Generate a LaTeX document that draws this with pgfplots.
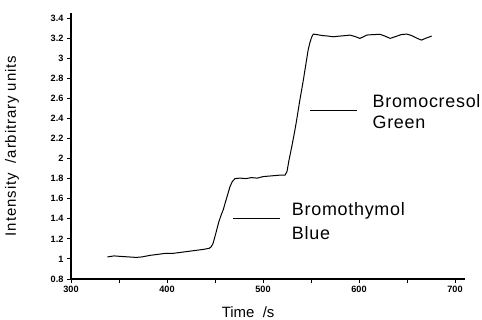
\documentclass[border=0pt]{standalone}
\usepackage{pgfplots}
\pgfplotsset{compat=1.18}
\usepackage{fontspec}
\setmainfont{Liberation Sans}
\newfontfamily\labfont[LetterSpace=6]{Liberation Sans}
\newfontfamily\annfont[LetterSpace=4]{Liberation Sans}
\begin{document}
\begin{tikzpicture}
\begin{axis}[
  at={(0,0)}, anchor=south west,
  scale only axis, width=393.6bp, height=266bp,
  xmin=300, xmax=710, ymin=0.8, ymax=3.45,
  axis lines=left, axis line style={-, line width=1.1bp},
  xtick={300,350,400,450,500,550,600,650,700},
  xticklabels={300,,400,,500,,600,,700},
  ytick={0.8,1,1.2,1.4,1.6,1.8,2,2.2,2.4,2.6,2.8,3,3.2,3.4},
  yticklabels={0.8,1,1.2,1.4,1.6,1.8,2,2.2,2.4,2.6,2.8,3,3.2,3.4},
  tick align=outside, major tick length=4bp,
  tick style={line width=0.9bp, black},
  ticklabel style={font=\fontsize{9.2}{10}\selectfont\bfseries},
  /pgf/number format/assume math mode=true,
  xlabel={Time \ /s}, ylabel={Intensity \ /arbitrary units},
  every axis x label/.style={at={(rel axis cs:0.45,0)}, yshift=-33bp, anchor=center, font=\fontsize{15}{16}\selectfont},
  every axis y label/.style={at={(rel axis cs:0,0.5)}, xshift=-59bp, rotate=90, anchor=center, font=\fontsize{15}{16}\selectfont\labfont},
  clip=false,
]
\addplot[black, line width=1bp] coordinates {
(338,1.02) (345,1.03) (352,1.025) (360,1.02) (368,1.015) (374,1.02) (382,1.035) (390,1.045)
(398,1.055) (406,1.055) (414,1.065) (422,1.075) (430,1.085) (438,1.095) (444,1.106)
(446,1.12) (448,1.155) (451,1.26) (454,1.37) (456.5,1.44) (458.6,1.49) (461,1.57)
(463.5,1.65) (465.6,1.72) (468,1.77) (470.8,1.80) (476,1.805) (482,1.80) (488,1.81)
(494,1.805) (500,1.82) (506,1.825) (512,1.83) (518,1.835) (523,1.836)
(525,1.87) (527,1.98) (530,2.12) (533,2.27) (535,2.38) (538,2.56) (542,2.78)
(545,2.96) (547,3.08) (549,3.16) (550.7,3.21) (552.4,3.24) (556,3.235) (562,3.225)
(568,3.22) (573,3.213) (580,3.22) (586,3.225) (590.6,3.23) (596,3.215) (601,3.197)
(605,3.215) (608,3.23) (615,3.235) (622,3.237) (627,3.22) (632.5,3.197) (638,3.215)
(644,3.235) (649.7,3.24) (655,3.225) (660,3.2) (665,3.18) (670,3.2) (675.7,3.22)
};
\addplot[black, line width=1bp] coordinates {(549,2.48) (598,2.48)};
\addplot[black, line width=1bp] coordinates {(469,1.40) (518,1.40)};
\node[anchor=west, inner sep=0pt, font=\fontsize{18}{19}\selectfont\annfont] at (axis cs:614,2.57) {Bromocresol};
\node[anchor=west, inner sep=0pt, font=\fontsize{18}{19}\selectfont\annfont] at (axis cs:614,2.365) {Green};
\node[anchor=west, inner sep=0pt, font=\fontsize{18}{19}\selectfont\annfont] at (axis cs:530,1.477) {Bromothymol};
\node[anchor=west, inner sep=0pt, font=\fontsize{18}{19}\selectfont\annfont] at (axis cs:530,1.26) {Blue};
\end{axis}
\pgfresetboundingbox
\path (-71bp,-41bp) rectangle (411bp,279bp);
\end{tikzpicture}
\end{document}
